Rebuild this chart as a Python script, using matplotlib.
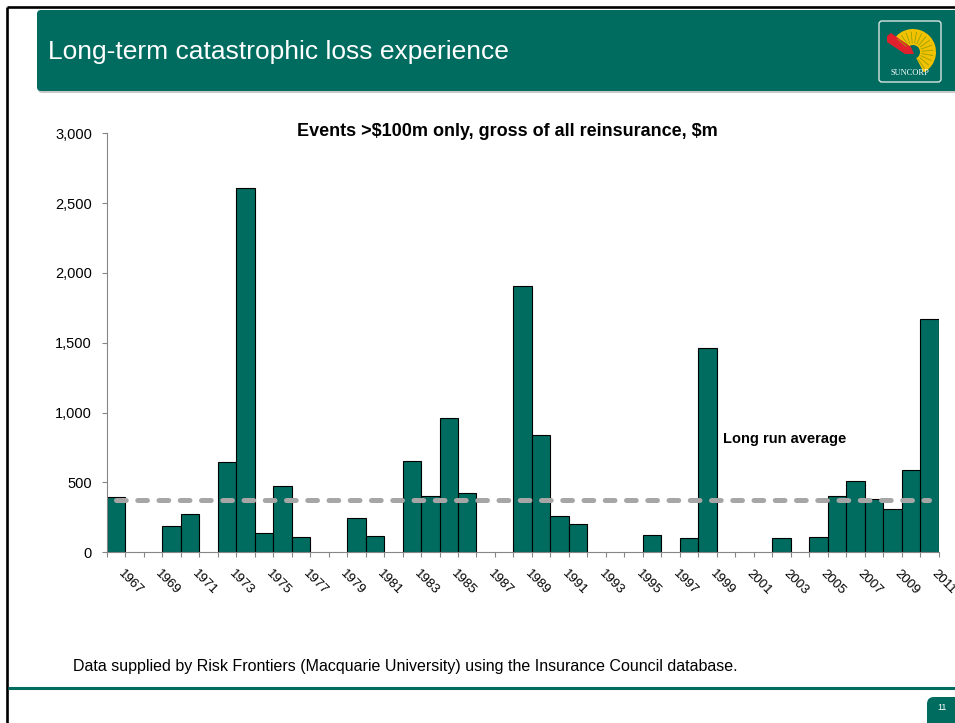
import numpy as np
import matplotlib
matplotlib.use("Agg")
import matplotlib.pyplot as plt
from matplotlib.patches import FancyBboxPatch, Wedge, Polygon, Circle

plt.rcParams['font.family'] = ['Liberation Sans', 'DejaVu Sans']
plt.rcParams['lines.scale_dashes'] = False

# data ($m, events > $100m)
years = list(range(1967, 2012))
losses = [395, 0, 0, 190, 275, 0, 650, 2605, 135, 475,
          112, 0, 0, 243, 115, 0, 652, 403, 963, 422,
          0, 0, 1905, 840, 258, 200, 0, 0, 0, 124,
          0, 105, 1461, 0, 0, 0, 100, 0, 107, 403,
          508, 379, 310, 587, 1673]
long_run_avg = 372
y_ticks = [0, 500, 1000, 1500, 2000, 2500, 3000]

teal = '#006b5f'
grey_axis = '#868686'

W, H = 955, 723
fig = plt.figure(figsize=(W / 100, H / 100), dpi=100)

# slide decoration, drawn in pixel coordinates
bg = fig.add_axes([0, 0, 1, 1])
bg.set_xlim(0, W)
bg.set_ylim(H, 0)
bg.axis('off')

# header band + shadow
bg.add_patch(FancyBboxPatch((38, 12), W, 81, boxstyle='round,pad=0,rounding_size=4',
                            fc='#c8c8c8', ec='none'))
bg.add_patch(FancyBboxPatch((37, 10), W, 81, boxstyle='round,pad=0,rounding_size=4',
                            fc=teal, ec='none'))
bg.text(48, 52, 'Long-term catastrophic loss experience', color='white', fontsize=19,
        ha='left', va='center')

# logo
bg.add_patch(FancyBboxPatch((879, 21), 62, 61, boxstyle='round,pad=0,rounding_size=3',
                            fc='none', ec='#d9e6e3', lw=1))
bg.add_patch(Wedge((913, 52), 23, -150, 62, fc='#f2c200', ec='none'))
for a in np.linspace(-140, 55, 14):
    r = np.radians(a)
    bg.plot([913 + 9 * np.cos(r), 913 + 20 * np.cos(r)],
            [52 + 9 * np.sin(r), 52 + 20 * np.sin(r)], color='#9aa000', lw=0.6)
bg.add_patch(Circle((913, 52), 7, fc=teal, ec='none'))
bg.add_patch(Polygon([(887, 36), (891, 33), (911, 47), (914, 54), (905, 54), (887, 42)],
                     closed=True, fc='#e0202c', ec='none'))
bg.text(910, 73, 'SUNCORP', color='white', fontsize=6,
        family=['Liberation Serif', 'DejaVu Serif'], ha='center', va='center')

# frame lines
bg.plot([6.5, 6.5], [6.5, H], color='black', lw=1.9, solid_capstyle='butt')
bg.plot([6.5, W], [6.5, 6.5], color='black', lw=1.9, solid_capstyle='butt')
bg.plot([7.5, W], [687.5, 687.5], color=teal, lw=2.2, solid_capstyle='butt')

# page number
bg.add_patch(FancyBboxPatch((927, 697), 40, 40, boxstyle='round,pad=0,rounding_size=7',
                            fc=teal, ec='none'))
bg.text(942, 708, '11', color='white', fontsize=6.5, ha='center', va='center')

# footer
bg.text(73, 666, 'Data supplied by Risk Frontiers (Macquarie University) using the '
        'Insurance Council database.', fontsize=11.5, ha='left', va='center')

# chart
ax = fig.add_axes([106.7 / W, 1 - 552.3 / H, 832 / W, 419 / H])
ax.patch.set_visible(False)
x = np.arange(len(years))
vals = np.array(losses)
mask = vals > 0
ax.bar(x[mask], vals[mask], width=1.0, color=teal, edgecolor='black', linewidth=0.8, zorder=2)
ax.plot([x[0], x[-1]], [long_run_avg, long_run_avg], color='#a6a6a6', lw=3.6,
        dashes=(7, 8.3), dash_capstyle='round', zorder=3)

ax.set_xlim(-0.5, len(years) - 0.5)
ax.set_ylim(0, 3000)
for s in ['top', 'right']:
    ax.spines[s].set_visible(False)
for s in ['left', 'bottom']:
    ax.spines[s].set_color(grey_axis)
    ax.spines[s].set_linewidth(0.8)

ax.set_yticks(y_ticks)
ax.set_yticklabels(['{:,}'.format(v) for v in y_ticks], fontsize=10.5)
ax.tick_params(axis='y', direction='out', length=3.6, width=0.8, color=grey_axis, pad=7)

ax.set_xticks(x[::2])
ax.set_xticklabels([str(y) for y in years[::2]], rotation=-45, ha='left', fontsize=9.5)
ax.set_xticks(np.arange(len(years) + 1) - 0.5, minor=True)
ax.tick_params(axis='x', which='major', length=0, pad=11)
ax.tick_params(axis='x', which='minor', direction='out', length=3.6, width=0.8, color=grey_axis)

fig.text(507 / W, 1 - 132 / H, r'Events >\$100m only, gross of all reinsurance, \$m',
         fontsize=13, weight='bold', ha='center', va='center')
fig.text(723 / W, 1 - 439 / H, 'Long run average', fontsize=10.5, weight='bold',
         ha='left', va='center')

fig.savefig('out.png', dpi=100)
